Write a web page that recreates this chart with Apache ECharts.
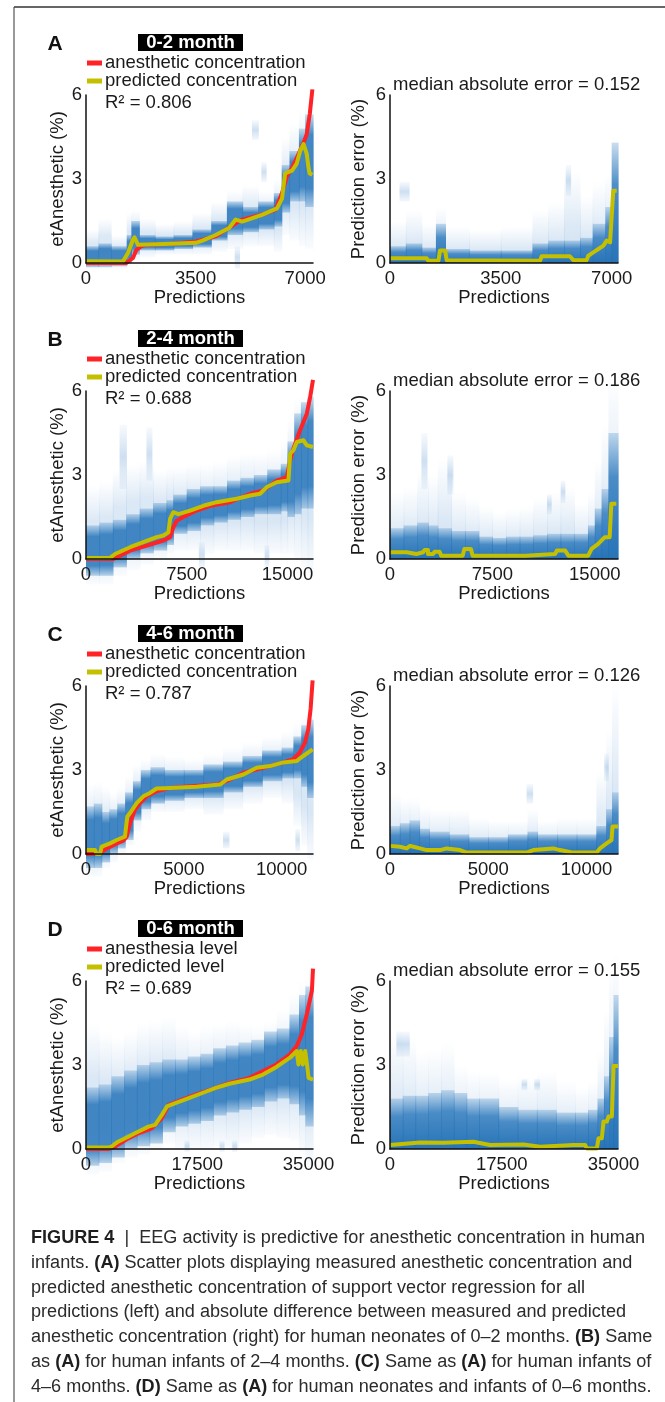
<!DOCTYPE html>
<html>
<head>
<meta charset="utf-8">
<script src="https://cdn.jsdelivr.net/npm/echarts/dist/echarts.min.js"></script>
<style>
html, body { margin: 0; padding: 0; background: #fff; }
#chart { width: 665px; height: 1402px; }
</style>
</head>
<body>
<div id="chart"></div>
<script>
'use strict';

// ---- panel labels ----
var ageGroups = ['0-2 month', '2-4 month', '4-6 month', '0-6 month'];
var panelLetters = ['A', 'B', 'C', 'D'];
var rSquared = ['0.806', '0.688', '0.787', '0.689'];
var medianErrors = ['0.152', '0.186', '0.126', '0.155'];
var trueNames = ['anesthetic concentration', 'anesthetic concentration', 'anesthetic concentration', 'anesthesia level'];
var predNames = ['predicted concentration', 'predicted concentration', 'predicted concentration', 'predicted level'];
var xMaxLeft = [7250, 16900, 11600, 35700];
var xMaxRight = [7200, 16700, 11600, 35700];
var xStep = [3500, 7500, 5000, 17500];

// ---- A: 0-2 month ----
var aTrue = [[0,0],[1290,0],[1500,0.18],[1610,0.47],[1770,0.6],[1920,0.65],[2660,0.68],[3510,0.77],[4140,0.95],[4780,1.42],[4990,1.55],[5620,1.73],[6050,1.9],[6260,2.5],[6420,3.1],[6580,3.4],[6790,3.9],[6950,4.3],[7050,4.6],[7150,5.35],[7230,6.2]];
var aPred = [[0,0.06],[1180,0.05],[1340,0.36],[1500,0.83],[1550,0.92],[1660,0.65],[2500,0.68],[3510,0.72],[3720,0.8],[4140,1.0],[4570,1.25],[4780,1.55],[4990,1.48],[5620,1.72],[6100,1.95],[6260,2.3],[6360,3.2],[6580,3.3],[6730,3.55],[6840,4.0],[6950,4.25],[7050,3.9],[7100,3.45],[7140,3.2],[7230,3.15]];
var aErr = [[0,0.17],[1160,0.17],[1210,0.08],[1530,0.08],[1580,0.45],[1740,0.45],[1790,0.1],[4740,0.08],[4790,0.24],[5680,0.24],[5790,0.1],[6210,0.1],[6260,0.26],[6420,0.38],[6580,0.5],[6740,0.62],[6840,0.8],[6950,0.74],[7000,0.74],[7050,2.58],[7160,2.58]];
var aEdges = [0,400,800,1300,1450,1700,2200,2800,3400,4000,4500,5000,5500,6000,6250,6500,6800,7000,7250];
var aCoreLo = [-0.15,-0.15,-0.12,0.0,0.3,0.45,0.45,0.5,0.55,0.8,1.0,1.1,1.2,1.3,1.8,2.2,2.2,2.0];
var aCoreHi = [0.6,0.7,0.6,1.0,1.5,1.0,0.95,1.0,1.2,1.5,2.2,2.0,2.2,2.5,3.5,4.0,4.8,5.3];
var aHazeLo = [-0.2,-0.2,-0.2,-0.1,0.1,0.2,0.3,0.3,0.3,0.4,0.5,0.6,0.6,0.4,1.0,0.8,0.6,0.5];
var aHazeHi = [1.2,1.6,1.0,1.8,1.9,1.6,1.4,1.5,1.8,2.2,2.6,2.8,2.6,3.0,4.5,5.0,5.5,5.8];
var aStreaks = [[5300,5500,4.4,5.1],[5600,5750,2.9,3.6],[4750,4900,-0.2,0.6]];
var aErrEdges = [0,500,1000,1450,1750,2500,3500,4500,5000,5500,6000,6400,6800,7000,7200];
var aErrCore = [0.6,0.7,0.55,1.4,0.5,0.45,0.45,0.7,0.8,0.8,0.9,1.4,2.0,4.3];
var aErrHaze = [1.5,1.9,1.4,2.0,1.3,1.2,1.3,1.9,2.2,3.3,2.4,2.9,3.2,4.5];
var aErrStreaks = [[300,600,2.2,2.9],[5550,5700,2.4,3.5]];

// ---- B: 2-4 month ----
var bTrue = [[0,0],[2040,0],[3280,0.3],[4520,0.48],[5760,0.66],[6260,0.78],[6500,1.13],[6750,1.37],[7250,1.5],[8240,1.73],[9240,1.9],[10730,2.03],[12220,2.33],[13210,2.45],[14200,2.8],[14950,2.92],[15200,3.52],[15440,3.94],[15940,4.6],[16440,5.19],[16690,5.79],[16900,6.4]];
var bPred = [[0,0.04],[1790,0.04],[2160,0.18],[3280,0.42],[4270,0.6],[5260,0.78],[5760,0.84],[6130,0.95],[6260,1.43],[6500,1.67],[6880,1.6],[7750,1.73],[8740,1.9],[9730,2.03],[11220,2.15],[12220,2.27],[12960,2.33],[13460,2.57],[14200,2.74],[15070,2.8],[15200,3.76],[15440,3.88],[15690,4.18],[16190,4.24],[16440,4.06],[16900,4.0]];
var bErr = [[0,0.24],[1210,0.24],[1210,0.18],[1940,0.18],[1940,0.24],[2420,0.24],[2540,0.32],[2780,0.32],[2780,0.18],[3150,0.18],[3270,0.26],[3630,0.26],[3750,0.12],[5320,0.12],[5450,0.36],[5930,0.36],[6050,0.12],[9920,0.12],[9920,0.18],[12100,0.18],[12220,0.3],[12830,0.3],[13070,0.12],[14520,0.12],[14760,0.36],[15250,0.54],[15730,0.78],[16090,0.78],[16210,1.97],[16580,1.97]];
var bEdges = [0,1000,2000,3000,4000,5000,6000,6500,7500,8500,9500,10500,11500,12500,13500,14500,15000,15500,16000,16500,16900];
var bCoreLo = [-0.6,-0.6,-0.3,0.0,0.2,0.3,0.5,0.9,1.0,1.2,1.3,1.4,1.5,1.6,1.6,1.7,1.5,1.6,1.8,1.8];
var bCoreHi = [1.2,1.3,1.4,1.6,1.8,2.0,2.1,2.3,2.5,2.6,2.6,2.8,2.9,3.0,3.2,3.4,4.2,5.2,5.6,5.8];
var bHazeLo = [-0.9,-0.9,-0.6,-0.4,-0.2,0.0,0.2,0.3,0.3,0.2,0.3,0.3,0.3,0.2,0.2,0.2,0.2,0.0,-0.3,-0.5];
var bHazeHi = [2.6,2.8,3.2,3.4,3.5,3.2,3.3,3.3,3.4,3.4,3.5,3.7,3.8,3.8,3.9,4.2,5.0,5.8,6.0,6.1];
var bStreaks = [[2500,3000,2.5,4.8],[4500,4900,2.8,4.7],[8400,8800,-0.3,0.6],[13300,13600,-0.3,0.5]];
var bErrEdges = [0,1000,2000,2800,3500,4500,5500,6500,7500,8500,9500,10500,11500,12500,13500,14500,15000,15500,16000,16700];
var bErrCore = [1.1,1.2,1.3,1.2,1.1,1.0,1.0,0.8,0.75,0.8,0.8,0.85,0.9,0.9,0.9,1.2,1.8,2.5,4.5];
var bErrHaze = [2.4,2.6,3.2,3.0,3.6,2.4,2.2,1.9,1.7,1.8,1.9,2.2,2.4,2.6,2.0,2.4,3.5,4.8,6.6];
var bErrStreaks = [[2300,2700,2.5,4.5],[4200,4600,2.3,3.7],[11500,11800,1.6,2.3],[12500,12800,2.0,2.8]];

// ---- C: 4-6 month ----
var cTrue = [[0,0],[700,0.02],[1060,0.2],[1570,0.38],[1910,0.48],[2080,0.62],[2250,1.1],[2500,1.58],[2760,1.82],[3100,2.06],[3610,2.24],[4290,2.36],[5310,2.42],[6680,2.48],[7360,2.66],[8040,2.9],[9060,3.08],[10080,3.27],[10590,3.39],[10930,3.63],[11190,3.98],[11360,4.46],[11480,5.2],[11580,6.2]];
var cPred = [[0,0.14],[460,0.14],[545,0.0],[715,0.0],[800,0.26],[1230,0.38],[1570,0.5],[1990,0.62],[2110,1.34],[2250,1.46],[2590,1.82],[2930,2.06],[3270,2.18],[3610,2.34],[4290,2.36],[5650,2.4],[6850,2.48],[7190,2.66],[8040,2.84],[8720,3.08],[9400,3.14],[10080,3.27],[10760,3.32],[11100,3.5],[11580,3.74]];
var cErr = [[0,0.29],[510,0.26],[850,0.2],[1020,0.29],[1190,0.26],[1530,0.2],[1870,0.14],[2540,0.14],[2880,0.2],[3560,0.14],[3900,0.05],[6950,0.05],[7290,0.14],[8310,0.2],[8650,0.14],[9320,0.05],[10510,0.05],[10680,0.2],[11020,0.38],[11270,0.5],[11320,0.98],[11600,0.98]];
var cEdges = [0,400,800,1200,1600,2000,2400,2800,3300,4000,5000,6000,7000,8000,9000,10000,10600,11000,11300,11600];
var cCoreLo = [-0.5,-0.5,-0.3,0.0,0.2,0.5,1.2,1.6,1.8,1.9,2.0,2.0,2.2,2.4,2.6,2.7,2.7,2.4,2.0];
var cCoreHi = [1.7,1.8,1.5,1.6,1.8,2.2,2.6,3.0,3.1,3.0,3.0,3.2,3.3,3.5,3.7,3.8,4.2,4.6,4.8];
var cHazeLo = [-0.8,-0.8,-0.5,-0.3,0.0,0.3,0.8,1.2,1.5,1.5,1.6,1.4,1.6,1.8,2.0,1.8,1.0,0.3,-0.2];
var cHazeHi = [2.5,2.6,2.4,2.2,2.4,2.8,3.2,3.4,3.6,3.5,3.4,3.6,3.8,4.0,4.2,4.4,4.7,5.0,5.2];
var cStreaks = [[7000,7300,0.2,0.8],[10700,10900,0.1,0.9]];
var cErrEdges = [0,500,1000,1500,2000,3000,4000,5000,6000,7000,7500,8500,9500,10500,11000,11300,11600];
var cErrCore = [1.0,1.1,1.2,0.9,0.8,0.7,0.6,0.6,0.7,0.8,0.7,0.7,0.7,1.0,1.6,2.2];
var cErrHaze = [2.2,2.0,2.0,1.7,1.6,1.6,1.3,1.2,1.2,1.6,1.2,1.3,1.3,3.0,4.5,6.1];
var cErrStreaks = [[6950,7250,1.8,2.5],[10900,11100,2.6,3.6]];

// ---- D: 0-6 month ----
var dTrue = [[0,0],[3450,0],[4510,0.08],[6630,0.38],[8220,0.56],[10340,0.74],[11930,1.1],[12990,1.58],[15110,1.76],[17240,1.94],[20420,2.18],[22540,2.36],[25720,2.54],[27840,2.78],[29960,3.02],[32080,3.38],[33140,3.68],[33940,4.1],[34740,4.82],[35530,5.66],[35700,6.44]];
var dPred = [[0,0.05],[3450,0.05],[3980,0.08],[5040,0.26],[6630,0.44],[7690,0.56],[8750,0.68],[9810,0.8],[10870,0.86],[11930,1.22],[12730,1.52],[14050,1.64],[16170,1.82],[18300,2.0],[20420,2.18],[22540,2.33],[25720,2.48],[27840,2.66],[29960,2.93],[32080,3.26],[33140,3.5],[33410,3.02],[33780,3.5],[34100,3.02],[34470,3.5],[34740,3.05],[35000,2.54],[35700,2.48]];
var dErr = [[0,0.14],[4700,0.23],[8360,0.22],[13060,0.26],[15670,0.14],[20900,0.16],[23510,0.08],[28730,0.14],[30560,0.14],[30820,0.02],[32390,0.02],[32650,0.38],[33170,0.38],[33430,0.98],[33960,0.98],[34220,1.16],[34740,1.16],[35000,2.96],[35700,2.96]];
var dEdges = [0,2000,4000,6000,8000,10000,12000,14000,16000,18000,20000,22000,24000,26000,28000,30000,32000,33500,34500,35700];
var dCoreLo = [-0.6,-0.5,-0.3,0.0,0.1,0.2,0.6,0.8,0.9,1.0,1.2,1.3,1.4,1.5,1.7,1.8,1.6,1.2,0.8];
var dCoreHi = [2.2,2.3,2.6,2.8,3.0,3.1,3.2,3.2,3.3,3.4,3.6,3.7,3.8,3.9,4.2,4.3,4.8,5.5,5.8];
var dHazeLo = [-0.9,-0.8,-0.5,-0.3,-0.2,0.0,0.2,0.0,0.0,0.0,0.1,0.0,0.2,0.4,0.5,0.4,0.3,-0.1,-0.6];
var dHazeHi = [4.5,4.2,4.0,4.2,4.5,4.6,4.7,4.4,4.2,4.4,4.5,4.6,4.5,4.4,4.6,5.0,5.6,6.0,6.2];
var dStreaks = [[15500,16200,-0.1,0.3],[21000,21700,-0.1,0.3],[23000,23700,-0.1,0.3]];
var dErrEdges = [0,2000,4000,6000,8000,10000,12000,14000,17000,20000,23000,26000,29000,31000,32500,33500,34300,35000,35700];
var dErrCore = [1.8,1.9,1.9,2.0,2.1,2.0,1.8,1.8,1.5,1.4,1.4,1.3,1.3,1.4,1.8,2.6,4.0,5.5];
var dErrHaze = [4.2,4.0,3.5,3.6,3.8,3.0,2.8,2.8,2.5,2.6,2.8,2.4,2.2,2.4,3.5,5.0,6.6,7.0];
var dErrStreaks = [[20600,21400,2.1,2.5],[22600,23400,2.1,2.5],[1000,3000,3.3,4.2]];

var panelTrue = [aTrue, bTrue, cTrue, dTrue];
var panelPred = [aPred, bPred, cPred, dPred];
var panelErr = [aErr, bErr, cErr, dErr];
var panelCloud = [
    [aEdges, aCoreLo, aCoreHi, aHazeLo, aHazeHi, aStreaks],
    [bEdges, bCoreLo, bCoreHi, bHazeLo, bHazeHi, bStreaks],
    [cEdges, cCoreLo, cCoreHi, cHazeLo, cHazeHi, cStreaks],
    [dEdges, dCoreLo, dCoreHi, dHazeLo, dHazeHi, dStreaks]
];
var panelErrCloud = [
    [aErrEdges, aErrCore, aErrHaze, aErrStreaks],
    [bErrEdges, bErrCore, bErrHaze, bErrStreaks],
    [cErrEdges, cErrCore, cErrHaze, cErrStreaks],
    [dErrEdges, dErrCore, dErrHaze, dErrStreaks]
];

var captionLines = [
    '{b|FIGURE 4}  |  EEG activity is predictive for anesthetic concentration in human',
    'infants. {b|(A)} Scatter plots displaying measured anesthetic concentration and',
    'predicted anesthetic concentration of support vector regression for all',
    'predictions (left) and absolute difference between measured and predicted',
    'anesthetic concentration (right) for human neonates of 0\u20132 months. {b|(B)} Same',
    'as {b|(A)} for human infants of 2\u20134 months. {b|(C)} Same as {b|(A)} for human infants of',
    '4\u20136 months. {b|(D)} Same as {b|(A)} for human neonates and infants of 0\u20136 months.'
];

// ---- layout ----
var FONT = '"Liberation Sans", Arial, sans-serif';
var TXT = '#1a1a1a';
var FS = 18.5;
var CAPFS = 18;
var rowOff = [0, 296, 591, 886];
var gridTop = 95, gridH = 168;
var RED = '#ff2226', YEL = '#c4c000';

var chart = echarts.init(document.getElementById('chart'), null, {renderer: 'canvas'});

function bins(edges, lo, hi) {
    var out = [];
    for (var i = 0; i < edges.length - 1; i++) {
        out.push([edges[i], edges[i + 1], lo ? lo[i] : 0, hi[i]]);
    }
    return out;
}

function grad(stops) {
    return new echarts.graphic.LinearGradient(0, 0, 0, 1, stops.map(function (s) {
        return {offset: s[0], color: s[1]};
    }));
}

var fills = {
    haze: grad([[0, 'rgba(120,170,220,0.0)'], [0.35, 'rgba(95,152,210,0.22)'], [0.7, 'rgba(95,152,210,0.24)'], [1, 'rgba(120,170,220,0.04)']]),
    core: grad([[0, 'rgba(50,126,192,0.25)'], [0.22, 'rgba(38,117,186,0.85)'], [0.8, 'rgba(38,117,186,0.85)'], [1, 'rgba(50,126,192,0.3)']]),
    errHaze: grad([[0, 'rgba(120,170,220,0.0)'], [0.6, 'rgba(95,152,210,0.22)'], [1, 'rgba(95,152,210,0.3)']]),
    errCore: grad([[0, 'rgba(50,126,192,0.25)'], [0.35, 'rgba(38,117,186,0.8)'], [1, 'rgba(30,110,180,0.95)']]),
    streak: grad([[0, 'rgba(100,155,210,0.05)'], [0.5, 'rgba(90,150,210,0.3)'], [1, 'rgba(100,155,210,0.08)']])
};

function bandSeries(gi, data, kind, z) {
    return {
        type: 'custom',
        xAxisIndex: gi,
        yAxisIndex: gi,
        clip: false,
        silent: true,
        animation: false,
        z: z,
        data: data,
        encode: {x: [0, 1], y: [2, 3]},
        renderItem: function (params, api) {
            var p0 = api.coord([api.value(0), api.value(3)]);
            var p1 = api.coord([api.value(1), api.value(2)]);
            return {
                type: 'rect',
                shape: {x: p0[0], y: p0[1], width: p1[0] - p0[0] + 0.6, height: p1[1] - p0[1]},
                style: {fill: fills[kind]}
            };
        }
    };
}

function lineSeries(gi, data, color, z) {
    return {
        type: 'line',
        xAxisIndex: gi,
        yAxisIndex: gi,
        data: data,
        symbol: 'none',
        showSymbol: false,
        clip: false,
        silent: true,
        animation: false,
        z: z,
        lineStyle: {color: color, width: 4, join: 'round'}
    };
}

var grids = [], xAxes = [], yAxes = [], series = [], graphics = [];

for (var r = 0; r < 4; r++) {
    var off = rowOff[r];
    [0, 1].forEach(function (side) {
        var gi = r * 2 + side;
        var step = xStep[r];
        grids.push({left: side === 0 ? 86 : 390, width: side === 0 ? 227 : 228, top: gridTop + off, height: gridH, outerBoundsMode: 'none'});
        xAxes.push({
            gridIndex: gi, type: 'value', min: 0, max: side === 0 ? xMaxLeft[r] : xMaxRight[r], interval: step, z: 10,
            axisLine: {show: true, onZero: false, lineStyle: {color: '#111', width: 1.5}},
            axisTick: {show: false}, splitLine: {show: false},
            axisLabel: {
                fontFamily: FONT, fontSize: FS, color: TXT, margin: 6, showMaxLabel: false,
                formatter: function (v) { return v % step === 0 ? String(v) : ''; }
            },
            name: 'Predictions', nameLocation: 'middle', nameGap: 25,
            nameTextStyle: {fontFamily: FONT, fontSize: FS, color: TXT}
        });
        yAxes.push({
            gridIndex: gi, type: 'value', min: 0, max: 6, interval: 3, z: 10,
            axisLine: {show: true, onZero: false, lineStyle: {color: '#111', width: 1.5}},
            axisTick: {show: false}, splitLine: {show: false},
            axisLabel: {fontFamily: FONT, fontSize: FS, color: TXT, margin: 4},
            name: side === 0 ? 'etAnesthetic (%)' : 'Prediction error (%)',
            nameLocation: 'middle', nameRotate: 90, nameGap: side === 0 ? 8 : 22,
            nameTextStyle: {fontFamily: FONT, fontSize: FS, color: TXT}
        });
        if (side === 0) {
            var c = panelCloud[r];
            series.push(bandSeries(gi, bins(c[0], c[3], c[4]), 'haze', 1));
            series.push(bandSeries(gi, c[5], 'streak', 1));
            series.push(bandSeries(gi, bins(c[0], c[1], c[2]), 'core', 2));
            series.push(lineSeries(gi, panelTrue[r], RED, 5));
            series.push(lineSeries(gi, panelPred[r], YEL, 6));
        } else {
            var e = panelErrCloud[r];
            series.push(bandSeries(gi, bins(e[0], null, e[2]), 'errHaze', 1));
            series.push(bandSeries(gi, e[3], 'streak', 1));
            series.push(bandSeries(gi, bins(e[0], null, e[1]), 'errCore', 2));
            series.push(lineSeries(gi, panelErr[r], YEL, 6));
        }
    });

    // panel letter, age box, legend, R2, median error
    graphics.push({type: 'text', x: 55, y: 44 + off, z: 20, style: {
        text: panelLetters[r], font: 'bold 21px ' + FONT, fill: '#111',
        align: 'center', textAlign: 'center', verticalAlign: 'middle', textVerticalAlign: 'middle'}});
    graphics.push({type: 'rect', z: 20, shape: {x: 138, y: 34 + off, width: 105, height: 17}, style: {fill: '#000'}});
    graphics.push({type: 'text', x: 190.5, y: 42.5 + off, z: 21, style: {
        text: ageGroups[r], font: 'bold ' + FS + 'px ' + FONT, fill: '#fff',
        align: 'center', textAlign: 'center', verticalAlign: 'middle', textVerticalAlign: 'middle'}});
    graphics.push({type: 'rect', z: 20, shape: {x: 87, y: 60.5 + off, width: 15, height: 5}, style: {fill: RED}});
    graphics.push({type: 'rect', z: 20, shape: {x: 87, y: 78.5 + off, width: 15, height: 5}, style: {fill: YEL}});
    [[trueNames[r], 63], [predNames[r], 81], ['R\u00b2 = ' + rSquared[r], 103]].forEach(function (t) {
        graphics.push({type: 'text', x: 105, y: t[1] + off, z: 20, style: {
            text: t[0], font: FS + 'px ' + FONT, fill: TXT,
            align: 'left', textAlign: 'left', verticalAlign: 'middle', textVerticalAlign: 'middle'}});
    });
    graphics.push({type: 'text', x: 393, y: 85 + off, z: 20, style: {
        text: 'median absolute error = ' + medianErrors[r], font: FS + 'px ' + FONT, fill: TXT,
        align: 'left', textAlign: 'left', verticalAlign: 'middle', textVerticalAlign: 'middle'}});
}

// caption: condensed horizontally so the first line spans the measured width
var ctx = document.createElement('canvas').getContext('2d');
function textWidth(font, s) { ctx.font = font; return ctx.measureText(s).width; }
var firstWidth = textWidth('bold ' + CAPFS + 'px ' + FONT, 'FIGURE 4') +
    textWidth(CAPFS + 'px ' + FONT, '  |  EEG activity is predictive for anesthetic concentration in human');
var capScale = 614 / firstWidth;

captionLines.forEach(function (line, i) {
    graphics.push({type: 'text', x: 31, y: 1238 + i * 24.8, scaleX: capScale, z: 20, style: {
        text: line, fontFamily: FONT, fontSize: CAPFS, fill: '#2b2b2b',
        align: 'left', textAlign: 'left', verticalAlign: 'middle', textVerticalAlign: 'middle',
        rich: {b: {fontFamily: FONT, fontSize: CAPFS, fontWeight: 'bold', fill: '#1e1e1e'}}
    }});
});

// figure frame (top and left rule)
graphics.push({type: 'line', z: 20, shape: {x1: 14, y1: 7, x2: 665, y2: 7}, style: {stroke: '#333', lineWidth: 1.5}});
graphics.push({type: 'line', z: 20, shape: {x1: 14, y1: 7, x2: 14, y2: 1402}, style: {stroke: '#555', lineWidth: 1.2}});

chart.setOption({
    animation: false,
    backgroundColor: '#fff',
    grid: grids,
    xAxis: xAxes,
    yAxis: yAxes,
    series: series,
    graphic: graphics
});
</script>
</body>
</html>
